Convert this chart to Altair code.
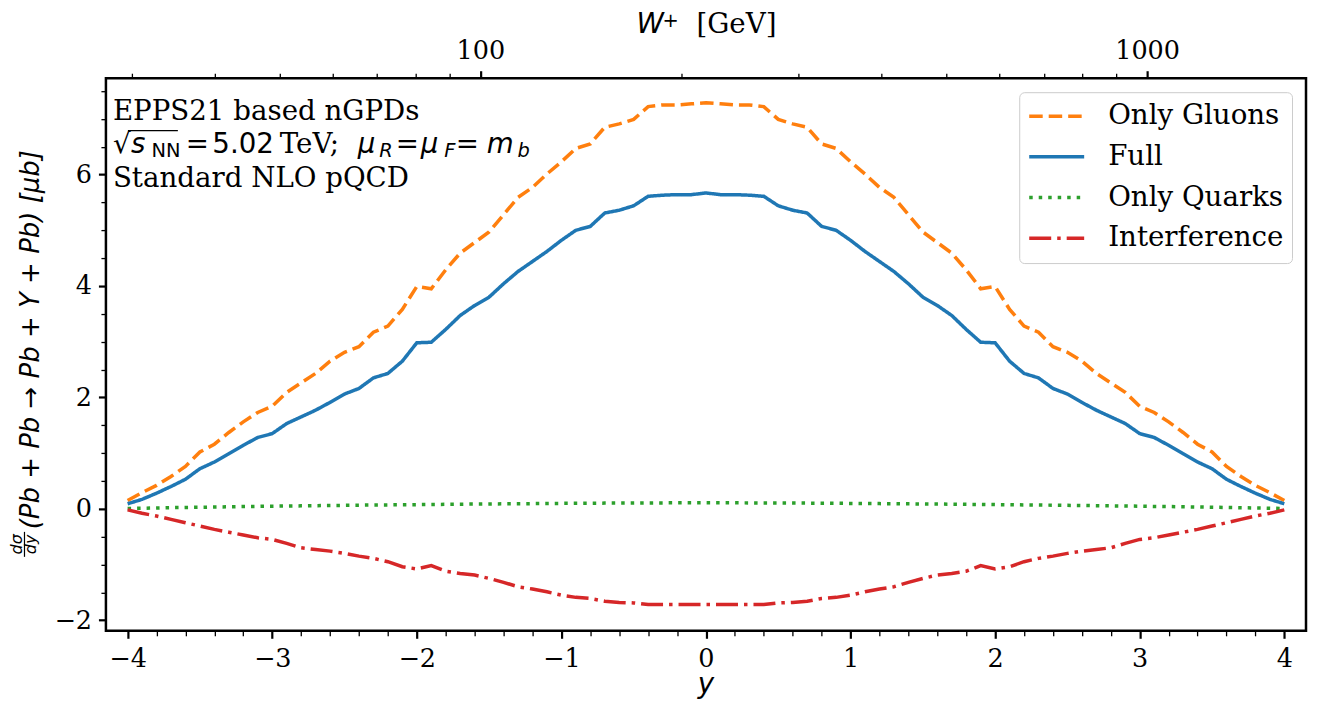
import altair as alt
import pandas as pd

# ---------------- data ----------------
rapidity = [round(-4 + 0.1 * i, 1) for i in range(81)]

only_gluons = [
    0.15, 0.29, 0.42, 0.58, 0.76, 1.02, 1.16, 1.37, 1.56, 1.73,
    1.84, 2.09, 2.26, 2.43, 2.65, 2.81, 2.91, 3.17, 3.28, 3.58,
    3.99, 3.95, 4.29, 4.59, 4.78, 4.97, 5.28, 5.59, 5.77, 6.01,
    6.23, 6.47, 6.55, 6.85, 6.91, 6.99, 7.22, 7.25, 7.25, 7.27,
    7.29,
    7.27, 7.25, 7.25, 7.22, 6.99, 6.91, 6.85, 6.55, 6.47, 6.23,
    6.01, 5.77, 5.59, 5.28, 4.97, 4.78, 4.59, 4.29, 3.95, 3.99,
    3.58, 3.28, 3.17, 2.91, 2.81, 2.65, 2.43, 2.26, 2.09, 1.84,
    1.73, 1.56, 1.37, 1.16, 1.02, 0.76, 0.58, 0.42, 0.29, 0.15,
]

full = [
    0.09, 0.17, 0.28, 0.40, 0.53, 0.72, 0.84, 0.99, 1.14, 1.28,
    1.35, 1.53, 1.65, 1.77, 1.91, 2.06, 2.16, 2.35, 2.43, 2.65,
    2.98, 2.99, 3.22, 3.47, 3.65, 3.80, 4.04, 4.26, 4.44, 4.62,
    4.82, 5.00, 5.07, 5.31, 5.36, 5.44, 5.61, 5.63, 5.64, 5.64,
    5.67,
    5.64, 5.64, 5.63, 5.61, 5.44, 5.36, 5.31, 5.07, 5.00, 4.82,
    4.62, 4.44, 4.26, 4.04, 3.80, 3.65, 3.47, 3.22, 2.99, 2.98,
    2.65, 2.43, 2.35, 2.16, 2.06, 1.91, 1.77, 1.65, 1.53, 1.35,
    1.28, 1.14, 0.99, 0.84, 0.72, 0.53, 0.40, 0.28, 0.17, 0.09,
]

only_quarks = [
    0.005, 0.010, 0.015, 0.020, 0.024, 0.028, 0.032, 0.036, 0.040, 0.043,
    0.047, 0.050, 0.053, 0.056, 0.059, 0.062, 0.065, 0.068, 0.070, 0.073,
    0.075, 0.078, 0.080, 0.083, 0.085, 0.087, 0.089, 0.091, 0.093, 0.095,
    0.097, 0.099, 0.100, 0.102, 0.103, 0.104, 0.105, 0.106, 0.107, 0.107,
    0.108,
    0.107, 0.107, 0.106, 0.105, 0.104, 0.103, 0.102, 0.100, 0.099, 0.097,
    0.095, 0.093, 0.091, 0.089, 0.087, 0.085, 0.083, 0.080, 0.078, 0.075,
    0.073, 0.070, 0.068, 0.065, 0.062, 0.059, 0.056, 0.053, 0.050, 0.047,
    0.043, 0.040, 0.036, 0.032, 0.028, 0.024, 0.020, 0.015, 0.010, 0.005,
]

interference = [
    -0.02, -0.08, -0.13, -0.19, -0.25, -0.31, -0.37, -0.42, -0.47, -0.52,
    -0.55, -0.62, -0.70, -0.73, -0.76, -0.80, -0.85, -0.89, -0.95, -1.04,
    -1.08, -1.02, -1.12, -1.16, -1.19, -1.25, -1.32, -1.40, -1.44, -1.49,
    -1.55, -1.59, -1.61, -1.66, -1.68, -1.69, -1.72, -1.72, -1.72, -1.72,
    -1.72,
    -1.72, -1.72, -1.72, -1.72, -1.69, -1.68, -1.66, -1.61, -1.59, -1.55,
    -1.49, -1.44, -1.40, -1.32, -1.25, -1.19, -1.16, -1.12, -1.02, -1.08,
    -1.04, -0.95, -0.89, -0.85, -0.80, -0.76, -0.73, -0.70, -0.62, -0.55,
    -0.52, -0.47, -0.42, -0.37, -0.31, -0.25, -0.19, -0.13, -0.08, -0.02,
]

series_names = ["Only Gluons", "Full", "Only Quarks", "Interference"]
series_colors = ["#ff7f0e", "#1f77b4", "#2ca02c", "#d62728"]
series_dashes = [[13.5, 6], [1, 0], [3.5, 6], [22, 6, 3.5, 6]]

x_ticks = [round(-4 + 0.2 * i, 1) for i in range(41)]
y_ticks = [round(-2 + 0.5 * i, 1) for i in range(20)]
w_ticks = [30, 40, 50, 60, 70, 80, 90, 100, 200, 300, 400, 500, 600, 700, 800, 900, 1000]
w_labels = [100, 1000]

# ---------------- build ----------------
rows = []
for name, vals in zip(series_names, [only_gluons, full, only_quarks, interference]):
    for r, v in zip(rapidity, vals):
        rows.append({"rapidity": r, "value": v, "series": name})
df = pd.DataFrame(rows)

SERIF = "DejaVu Serif"
SANS = "DejaVu Sans"
TICKF = 25.5
BIGF = 27.7

is_int = "abs(datum.value - round(datum.value)) < 0.001"
is_even = "abs(datum.value/2 - round(datum.value/2)) < 0.001"
is_dec = "datum.value == 100 || datum.value == 1000"

x_axis = alt.Axis(
    values=x_ticks, labelExpr=f"{is_int} ? format(datum.value, 'd') : ''",
    tickSize={"condition": {"test": is_int, "value": 7.5}, "value": 5},
    tickWidth={"condition": {"test": is_int, "value": 2.2}, "value": 1.3},
    tickColor="black", domain=False, grid=False, labelOverlap=False,
    labelFont=SERIF, labelFontSize=TICKF, labelColor="black", labelPadding=8,
    labelFlush=False, title="",
)
y_axis = alt.Axis(
    values=y_ticks, labelExpr=f"{is_even} ? format(datum.value, 'd') : ''",
    tickSize={"condition": {"test": is_even, "value": 7.5}, "value": 5},
    tickWidth={"condition": {"test": is_even, "value": 2.2}, "value": 1.3},
    tickColor="black", domain=False, grid=False, labelOverlap=False,
    labelFont=SERIF, labelFontSize=TICKF, labelColor="black", labelPadding=7,
    labelFlush=False, title="",
)
w_axis = alt.Axis(
    orient="top", values=w_ticks,
    labelExpr=f"({is_dec}) ? format(datum.value, 'd') : ''",
    tickSize={"condition": {"test": is_dec, "value": 7.5}, "value": 5},
    tickWidth={"condition": {"test": is_dec, "value": 2.2}, "value": 1.3},
    tickColor="black", domain=False, grid=False, labelOverlap=False,
    labelFont=SERIF, labelFontSize=TICKF, labelColor="black", labelPadding=7,
    labelFlush=False, title="",
)

legend = alt.Legend(
    title=None, orient="none", legendX=914, legendY=14,
    symbolType="stroke", symbolSize=3025, symbolStrokeWidth=3.5,
    labelFont=SERIF, labelFontSize=BIGF, labelColor="black", labelLimit=400,
    labelOffset=22, padding=8, rowPadding=8.7, clipHeight=32,
    strokeColor="#cccccc", fillColor="white", cornerRadius=5,
)

lines = alt.Chart(df).mark_line(strokeWidth=3.5).encode(
    x=alt.X("rapidity:Q", scale=alt.Scale(domain=[-4.15, 4.15], nice=False, zero=False), axis=x_axis),
    y=alt.Y("value:Q", scale=alt.Scale(domain=[-2.19, 7.73], nice=False, zero=False), axis=y_axis),
    color=alt.Color("series:N", sort=series_names,
                    scale=alt.Scale(domain=series_names, range=series_colors), legend=legend),
    strokeDash=alt.StrokeDash("series:N", sort=series_names,
                              scale=alt.Scale(domain=series_names, range=series_dashes), legend=legend),
)

top = alt.Chart(pd.DataFrame({"W": w_labels})).mark_point(opacity=0).encode(
    x=alt.X("W:Q", scale=alt.Scale(type="log", domain=[27.45, 1731], nice=False), axis=w_axis),
)

one = pd.DataFrame({"k": [0]})


def txt(s, x, y, font=SERIF, size=BIGF, style="normal", align="left", angle=0):
    return alt.Chart(one).mark_text(
        text=s, font=font, fontSize=size, fontStyle=style, align=align,
        baseline="alphabetic", color="black", angle=angle,
    ).encode(x=alt.value(x), y=alt.value(y))


def rule(x1, x2, y1, y2, w=1.3):
    return alt.Chart(one).mark_rule(color="black", strokeWidth=w).encode(
        x=alt.value(x1), x2=alt.value(x2), y=alt.value(y1), y2=alt.value(y2)
    )


annot = [
    # in-plot annotation
    txt("EPPS21 based nGPDs", 7, 42),
    txt("Standard NLO pQCD", 7, 109),
    txt("√", 7, 74.5, font=SANS),
    txt("s", 25, 74.5, font=SANS, style="italic"),
    txt("NN", 45.5, 78.5, font=SANS, size=19.4),
    txt("=", 80, 74.5, font=SANS),
    txt("5.02", 106.5, 74.5, font=SANS),
    txt("TeV;", 174, 74.5),
    txt("μ", 252, 74.5, font=SANS, style="italic"),
    txt("R", 273.5, 78.5, font=SANS, size=19.4, style="italic"),
    txt("=", 290, 74.5, font=SANS),
    txt("μ", 315, 74.5, font=SANS, style="italic"),
    txt("F", 338.5, 78.5, font=SANS, size=19.4, style="italic"),
    txt("=", 350, 74.5, font=SANS),
    txt("m", 381, 74.5, font=SANS, style="italic"),
    txt("b", 412, 78.5, font=SANS, size=19.4, style="italic"),
    rule(22, 72, 52.5, 52.5),
    # top axis title
    txt("W", 531, -45.5, font=SANS, style="italic"),
    txt("+", 557, -51, font=SANS, size=19.4),
    txt("[GeV]", 591, -45.5),
    # bottom axis title
    txt("y", 600.5, 615.5, font=SANS, style="italic", align="center"),
    # left axis title
    txt("(Pb + Pb → Pb + Υ + Pb) [μb]", -67, 451.5, font=SANS, size=26,
        style="italic", angle=270),
    txt("dσ", -84, 466.5, font=SANS, size=16, style="italic", align="center", angle=270),
    txt("dy", -69.5, 466.5, font=SANS, size=16, style="italic", align="center", angle=270),
    rule(-81.5, -81.5, 454, 479, w=1.2),
]

chart = alt.layer(lines, top, *annot).resolve_scale(
    x="independent"
).properties(
    width=1201, height=553,
    autosize=alt.AutoSizeParams(type="none"),
    padding={"left": 98, "top": 70, "right": 6, "bottom": 72},
).configure_view(stroke="black", strokeWidth=2.5)

chart.save("out.html", embed_options={"renderer": "svg", "actions": False})
